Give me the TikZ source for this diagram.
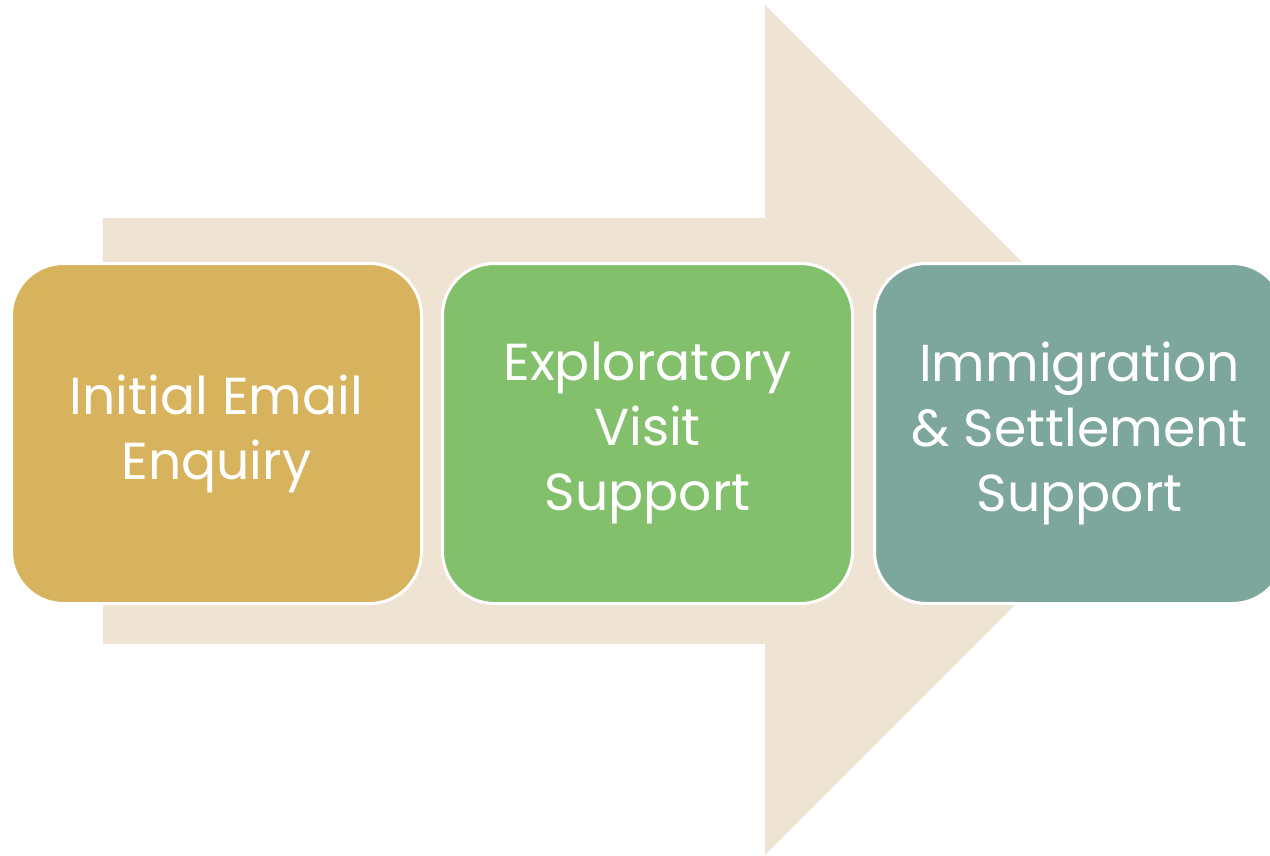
\documentclass[tikz,border=0pt]{standalone}
\usepackage{fontspec}
\setmainfont{Poppins}
\begin{document}
\definecolor{arrowfill}{HTML}{EFE4D4}
\definecolor{stepone}{HTML}{D8B35D}
\definecolor{steptwo}{HTML}{82C06C}
\definecolor{stepthree}{HTML}{7DA79C}
\begin{tikzpicture}[x=1pt,y=-1pt,
  stagebox/.style={draw=white, line width=3pt, rounded corners=52pt,
    minimum width=410pt, minimum height=340pt, anchor=north west,
    inner sep=0pt, align=center, text=white,
    font=\fontsize{52}{65}\selectfont}]
  \useasboundingbox (0,0) rectangle (1270,856);
  \begin{scope}
    \clip (0,0) rectangle (1270,856);
    % background process arrow
    \fill[arrowfill] (103,218) -- (765,218) -- (765,5) -- (1190,430)
      -- (765,855) -- (765,644) -- (103,644) -- cycle;
    % stages
    \node[stagebox, fill=stepone] (s1) at (10,262) {Initial Email\\Enquiry};
    \node[stagebox, fill=steptwo] (s2) at (441,262) {Exploratory\\Visit\\Support};
    \node[stagebox, fill=stepthree] (s3) at (873,262) {Immigration\\\& Settlement\\Support};
  \end{scope}
\end{tikzpicture}
\end{document}
